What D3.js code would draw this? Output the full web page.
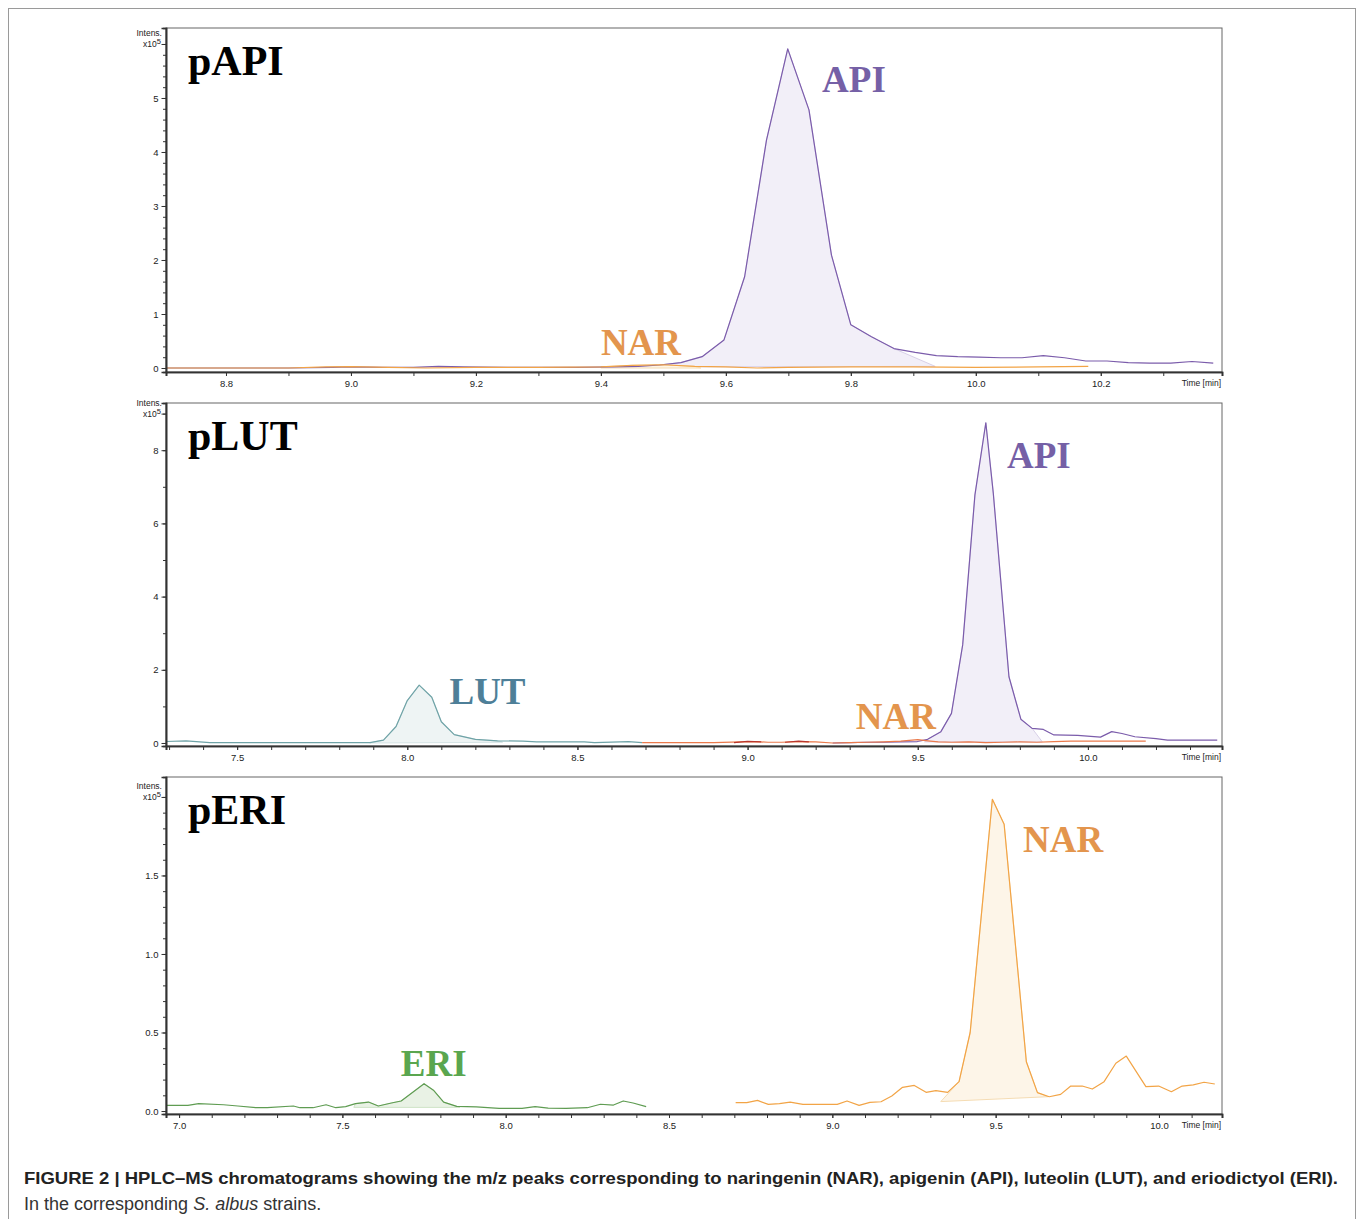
<!DOCTYPE html>
<html><head><meta charset="utf-8">
<script src="https://cdn.jsdelivr.net/npm/d3@7"></script>
<style>body{margin:0;background:#fff}</style>
</head><body>
<svg id="chart" width="1360" height="1219"></svg>
<script>
// ---------- DATA (time in min, intensity in x10^5) ----------
const p1Api = [[8.70,0.0],[8.80,0.0],[8.90,0.0],[8.97,0.01],[9.00,0.02],[9.05,0.01],[9.10,0.01],[9.14,0.03],[9.18,0.02],[9.25,0.01],[9.30,0.01],[9.36,0.01],[9.42,0.02],[9.46,0.03],[9.494,0.056],[9.528,0.10],[9.562,0.21],[9.597,0.52],[9.630,1.69],[9.665,4.22],[9.699,5.91],[9.733,4.78],[9.769,2.09],[9.800,0.80],[9.833,0.58],[9.869,0.36],[9.903,0.29],[9.937,0.23],[9.971,0.21],[10.005,0.20],[10.04,0.19],[10.074,0.19],[10.108,0.23],[10.142,0.19],[10.176,0.13],[10.21,0.13],[10.244,0.10],[10.278,0.09],[10.312,0.09],[10.346,0.12],[10.38,0.09]];
const p1Nar = [[8.70,0.0],[8.90,0.0],[8.96,0.02],[9.00,0.025],[9.06,0.01],[9.12,0.0],[9.20,0.01],[9.30,0.01],[9.40,0.02],[9.45,0.05],[9.50,0.06],[9.55,0.03],[9.60,0.02],[9.65,0.0],[9.70,0.01],[9.80,0.02],[9.90,0.02],[10.00,0.01],[10.10,0.02],[10.18,0.03]];

const p2Lut = [[7.29,0.04],[7.35,0.06],[7.42,0.01],[7.60,0.01],[7.80,0.01],[7.89,0.01],[7.93,0.08],[7.967,0.45],[8.00,1.16],[8.035,1.58],[8.072,1.25],[8.10,0.58],[8.138,0.23],[8.20,0.10],[8.265,0.06],[8.34,0.05],[8.38,0.03],[8.52,0.03],[8.55,0.01],[8.65,0.04],[8.69,0.01]];
const p2Api = [[9.25,0.0],[9.30,0.01],[9.35,0.02],[9.40,0.02],[9.45,0.03],[9.499,0.04],[9.529,0.10],[9.568,0.31],[9.599,0.81],[9.632,2.68],[9.668,6.78],[9.700,8.75],[9.722,6.82],[9.768,1.81],[9.803,0.65],[9.836,0.40],[9.869,0.37],[9.900,0.22],[9.970,0.21],[10.037,0.16],[10.07,0.31],[10.10,0.26],[10.138,0.17],[10.20,0.12],[10.234,0.08],[10.30,0.08],[10.38,0.08]];
const p2Nar = [[8.69,0.01],[8.75,0.01],[8.80,0.01],[8.90,0.01],[8.98,0.03],[9.02,0.04],[9.06,0.02],[9.10,0.02],[9.15,0.04],[9.20,0.03],[9.25,0.0],[9.30,0.01],[9.35,0.02],[9.40,0.03],[9.45,0.05],[9.50,0.09],[9.53,0.06],[9.56,0.03],[9.60,0.02],[9.65,0.03],[9.70,0.01],[9.75,0.02],[9.80,0.03],[9.85,0.02],[9.90,0.04],[9.95,0.05],[10.00,0.05],[10.05,0.05],[10.10,0.05],[10.17,0.05]];
const p2Red = [[8.96,0.01],[9.00,0.045],[9.04,0.03],[9.07,null],[9.11,0.02],[9.15,0.05],[9.18,0.03]];

const p3Eri = [[6.96,0.036],[7.027,0.036],[7.06,0.047],[7.136,0.04],[7.18,0.032],[7.235,0.021],[7.27,0.021],[7.35,0.032],[7.37,0.021],[7.41,0.021],[7.45,0.04],[7.48,0.021],[7.51,0.028],[7.54,0.047],[7.58,0.057],[7.61,0.032],[7.65,0.051],[7.68,0.064],[7.75,0.174],[7.78,0.13],[7.81,0.057],[7.85,0.03],[7.91,0.026],[7.98,0.017],[8.05,0.017],[8.09,0.028],[8.13,0.019],[8.185,0.017],[8.25,0.021],[8.29,0.043],[8.33,0.038],[8.36,0.064],[8.39,0.051],[8.43,0.028]];
const p3Nar = [[8.704,0.053],[8.738,0.053],[8.771,0.068],[8.804,0.042],[8.838,0.047],[8.871,0.057],[8.91,0.042],[8.949,0.042],[8.982,0.042],[9.015,0.042],[9.045,0.064],[9.082,0.036],[9.115,0.055],[9.149,0.059],[9.182,0.096],[9.215,0.151],[9.251,0.163],[9.287,0.119],[9.317,0.13],[9.353,0.119],[9.388,0.187],[9.422,0.50],[9.49,1.985],[9.526,1.826],[9.594,0.314],[9.628,0.117],[9.664,0.091],[9.699,0.106],[9.73,0.159],[9.765,0.159],[9.796,0.14],[9.832,0.187],[9.868,0.304],[9.90,0.35],[9.96,0.155],[9.999,0.159],[10.038,0.123],[10.071,0.159],[10.105,0.166],[10.138,0.183],[10.171,0.172]];

// integration (shaded) regions: curve between from/to, closed by start/end baseline points
const p1ApiFill = {from:9.494, to:9.869, start:[9.49,0.02], end:[9.935,0.03]};
const p1NarFill = {from:9.40, to:9.55, start:[9.40,0.0], end:[9.56,0.0]};
const p2ApiFill = {from:9.529, to:9.836, start:[9.52,0.03], end:[9.866,0.03]};
const p2LutFill = {from:7.93, to:8.265, start:[7.89,0.0], end:[8.28,0.02]};
const p3EriFill = {from:7.54, to:7.85, start:[7.535,0.023], end:[7.86,0.023]};
const p3NarFill = {from:9.387, to:9.628, start:[9.332,0.06], end:[9.66,0.091]};

// tick labels
const p1XTicks = [8.8,9.0,9.2,9.4,9.6,9.8,10.0,10.2];
const p2XTicks = [7.5,8.0,8.5,9.0,9.5,10.0];
const p3XTicks = [7.0,7.5,8.0,8.5,9.0,9.5,10.0];
const p1YTicks = [0,1,2,3,4,5];
const p2YTicks = [0,2,4,6,8];
const p3YTicks = [0.0,0.5,1.0,1.5];

// peak labels [text, time, intensity]
const p1Labels = [["NAR",9.40,0.24],["API",9.754,5.11]];
const p2Labels = [["LUT",8.124,1.07],["NAR",9.318,0.38],["API",9.762,7.51]];
const p3Labels = [["ERI",7.679,0.223],["NAR",9.584,1.65]];

// ---------- STYLE ----------
const C = {
  api:{line:"#7b5cab", fill:"#f2eff8", edge:"#d8d0e8", label:"#7560a6"},
  nar:{line:"#f2a446", fill:"#fdf5e8", edge:"#f5dcb3", label:"#e3954d"},
  nar2:{line:"#ea7a4c"},
  red:{line:"#b8352c"},
  lut:{line:"#6fa3a7", fill:"#eef4f4", edge:"#d6e4e5", label:"#4e7f98"},
  eri:{line:"#5f9c52", fill:"#e9f2e5", edge:"#cfe3c8", label:"#5aa64f"}
};

const panels = [
  {title:"pAPI", box:{l:166,t:28,r:1222,b:372}, xd:[8.704,10.394], yd:[-0.074,6.296],
   xTicks:p1XTicks, xMinor:[8.8,10.3,0.1], xFmt:".1f", yTicks:p1YTicks, yMinor:[0,6,0.2], yExp:6, yFmt:"d",
   fills:[[p1Api,p1ApiFill,C.api],[p1Nar,p1NarFill,C.nar]],
   lines:[[p1Api,C.api.line],[p1Nar,C.nar.line]],
   labels:p1Labels},
  {title:"pLUT", box:{l:166,t:403,r:1222,b:746}, xd:[7.291,10.394], yd:[-0.082,9.29],
   xTicks:p2XTicks, xMinor:[7.3,10.3,0.1], xFmt:".1f", yTicks:p2YTicks, yMinor:[0,9,1], yExp:9, yFmt:"d",
   fills:[[p2Lut,p2LutFill,C.lut],[p2Api,p2ApiFill,C.api]],
   lines:[[p2Lut,C.lut.line],[p2Api,C.api.line],[p2Nar,C.nar2.line],[p2Red,C.red.line]],
   labels:p2Labels},
  {title:"pERI", box:{l:166,t:777,r:1222,b:1114}, xd:[6.96,10.193], yd:[-0.019,2.127],
   xTicks:p3XTicks, xMinor:[7.0,10.1,0.1], xFmt:".1f", yTicks:p3YTicks, yMinor:[0,2,0.1], yExp:2, yFmt:".1f",
   fills:[[p3Eri,p3EriFill,C.eri],[p3Nar,p3NarFill,C.nar]],
   lines:[[p3Eri,C.eri.line],[p3Nar,C.nar.line]],
   labels:p3Labels}
];
const labelColor = {API:C.api.label, NAR:C.nar.label, LUT:C.lut.label, ERI:C.eri.label};

const svg = d3.select("#chart");
svg.append("rect").attr("width",1360).attr("height",1219).attr("fill","#fff");
// outer figure frame
svg.append("rect").attr("x",8.5).attr("y",8.5).attr("width",1347).attr("height",1240)
   .attr("fill","none").attr("stroke","#9a9a9a").attr("stroke-width",1);

const sans = "'Liberation Sans', Arial, sans-serif";
const serif = "'Liberation Serif', 'Times New Roman', serif";

function styleAxis(sel, fs){
  sel.selectAll(".domain").attr("stroke","#333").attr("stroke-width",1.6);
  sel.selectAll("line").attr("stroke","#333");
  sel.selectAll("text").attr("font-family",sans).attr("font-size",fs).attr("fill","#222");
}

panels.forEach((p,i)=>{
  const b = p.box;
  const x = d3.scaleLinear().domain(p.xd).range([b.l,b.r]);
  const y = d3.scaleLinear().domain(p.yd).range([b.b,b.t]);
  const g = svg.append("g");
  const clipId = "clip"+i;
  g.append("clipPath").attr("id",clipId).append("rect")
    .attr("x",b.l).attr("y",b.t).attr("width",b.r-b.l).attr("height",b.b-b.t);
  const plot = g.append("g").attr("clip-path",`url(#${clipId})`);

  const line = d3.line().defined(d=>d[1]!==null).x(d=>x(d[0])).y(d=>y(d[1]));
  // fills
  p.fills.forEach(([series,spec,col])=>{
    const pts = [spec.start, ...series.filter(d=>d[0]>=spec.from && d[0]<=spec.to && d[1]!==null), spec.end];
    plot.append("path").attr("d",line(pts)+"Z")
      .attr("fill",col.fill).attr("stroke",col.edge).attr("stroke-width",1);
  });
  // lines
  p.lines.forEach(([series,col])=>{
    plot.append("path").datum(series).attr("d",line)
      .attr("fill","none").attr("stroke",col).attr("stroke-width",1.2).attr("stroke-linejoin","round");
  });

  // frame
  g.append("rect").attr("x",b.l).attr("y",b.t).attr("width",b.r-b.l).attr("height",b.b-b.t)
    .attr("fill","none").attr("stroke","#666").attr("stroke-width",1);

  // x axis: minor ticks, then major ticks with labels (separate groups)
  const xMinorVals = d3.range(p.xMinor[0], p.xMinor[1]+1e-9, p.xMinor[2]).map(v=>+v.toFixed(2));
  const xm = g.append("g").attr("transform",`translate(0,${b.b})`)
    .call(d3.axisBottom(x).tickValues(xMinorVals).tickSize(4).tickFormat(""));
  styleAxis(xm, 9.5);
  const xa = g.append("g").attr("transform",`translate(0,${b.b})`)
    .call(d3.axisBottom(x).tickValues(p.xTicks).tickSize(4).tickPadding(4).tickFormat(d3.format(p.xFmt)));
  styleAxis(xa, 9.5);
  g.append("text").attr("x",b.r-1).attr("y",b.b+14).attr("text-anchor","end")
    .attr("font-family",sans).attr("font-size",8.5).attr("fill","#222").text("Time [min]");

  // y axis
  const yMinorVals = d3.range(p.yMinor[0], p.yMinor[1]+1e-9, p.yMinor[2]).map(v=>+v.toFixed(2));
  const ym = g.append("g").attr("transform",`translate(${b.l},0)`)
    .call(d3.axisLeft(y).tickValues(yMinorVals).tickSize(3).tickFormat(""));
  styleAxis(ym, 9.5);
  const ya = g.append("g").attr("transform",`translate(${b.l},0)`)
    .call(d3.axisLeft(y).tickValues(p.yTicks.concat([p.yExp])).tickSize(4.5).tickPadding(3)
      .tickFormat(d=> d===p.yExp ? "" : d3.format(p.yFmt)(d)));
  styleAxis(ya, 9.5);
  const ye = y(p.yExp);
  g.append("text").attr("x",b.l-4).attr("y",ye-8).attr("text-anchor","end")
    .attr("font-family",sans).attr("font-size",8.5).attr("fill","#222").text("Intens.");
  const xt = g.append("text").attr("x",b.l-5).attr("y",ye+3).attr("text-anchor","end")
    .attr("font-family",sans).attr("font-size",8.5).attr("fill","#222");
  xt.append("tspan").text("x10");
  xt.append("tspan").attr("dy",-3).attr("font-size",7.5).text("5");

  // panel title
  g.append("text").attr("x",b.l+22).attr("y",b.t+47)
    .attr("font-family",serif).attr("font-weight","bold").attr("font-size",42).attr("fill","#000").text(p.title);
  // peak labels
  p.labels.forEach(([txt,t,v])=>{
    g.append("text").attr("x",x(t)).attr("y",y(v))
      .attr("font-family",serif).attr("font-weight","bold").attr("font-size",37)
      .attr("fill",labelColor[txt]).text(txt);
  });
});

// caption
svg.append("text").attr("x",24).attr("y",1184).attr("font-family",sans).attr("font-weight","bold")
  .attr("font-size",16.5).attr("fill","#222").attr("textLength",1314).attr("lengthAdjust","spacingAndGlyphs")
  .text("FIGURE 2 | HPLC–MS chromatograms showing the m/z peaks corresponding to naringenin (NAR), apigenin (API), luteolin (LUT), and eriodictyol (ERI).");
const cap2 = svg.append("text").attr("x",24).attr("y",1210).attr("font-family",sans)
  .attr("font-size",18).attr("fill","#333");
cap2.append("tspan").text("In the corresponding ");
cap2.append("tspan").attr("font-style","italic").text("S. albus");
cap2.append("tspan").text(" strains.");
</script>
</body></html>
